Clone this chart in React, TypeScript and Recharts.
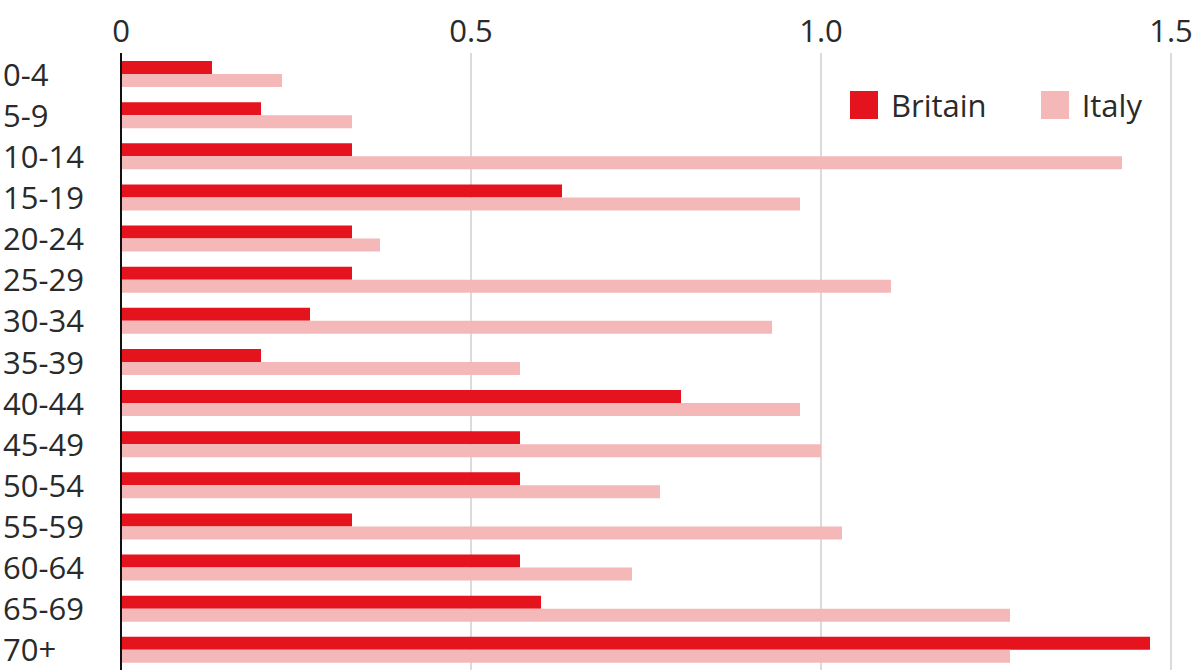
import React from "react";
import { BarChart, Bar, XAxis, YAxis, CartesianGrid } from "recharts";

const AGE_GROUPS = [
  "0-4", "5-9", "10-14", "15-19", "20-24", "25-29", "30-34", "35-39",
  "40-44", "45-49", "50-54", "55-59", "60-64", "65-69", "70+",
];
const BRITAIN = [0.13, 0.2, 0.33, 0.63, 0.33, 0.33, 0.27, 0.2, 0.8, 0.57, 0.57, 0.33, 0.57, 0.6, 1.47];
const ITALY = [0.23, 0.33, 1.43, 0.97, 0.37, 1.1, 0.93, 0.57, 0.97, 1.0, 0.77, 1.03, 0.73, 1.27, 1.27];
const X_TICKS = [0, 0.5, 1.0, 1.5];
const X_TICK_LABELS = ["0", "0.5", "1.0", "1.5"];
const SERIES = ["Britain", "Italy"];

const COLORS: Record<string, string> = { Britain: "#e5131d", Italy: "#f5b8b8" };
const FONT = "'Open Sans', sans-serif";
const TEXT = "#2a2a2a";

const data = AGE_GROUPS.map((g, i) => ({ group: g, Britain: BRITAIN[i], Italy: ITALY[i] }));

function YTick({ y, payload }: any) {
  return (
    <text x={3} y={y} textAnchor="start" dominantBaseline="central"
      fontFamily={FONT} fontSize={31} fill={TEXT}>
      {payload.value}
    </text>
  );
}

function XTick({ x, payload }: any) {
  const idx = X_TICKS.indexOf(payload.value);
  return (
    <text x={x} y={42} textAnchor="middle" fontFamily={FONT} fontSize={31} fill={TEXT}>
      {idx >= 0 ? X_TICK_LABELS[idx] : payload.value}
    </text>
  );
}

/* legend drawn as an overlay so it does not shrink the plot */
function LegendBox() {
  return (
    <div style={{ position: "absolute", top: 84, left: 850, display: "flex", alignItems: "center",
      fontFamily: FONT, fontSize: 31, color: TEXT }}>
      {SERIES.map((s) => (
        <div key={s} style={{ display: "flex", alignItems: "center", marginRight: 54 }}>
          <span style={{ width: 28, height: 28, background: COLORS[s], display: "inline-block", marginRight: 13 }} />
          <span>{s}</span>
        </div>
      ))}
    </div>
  );
}

export default function App() {
  return (
    <div style={{ position: "absolute", left: 0, top: 0, width: 1198, height: 671, overflow: "hidden", background: "#fff" }}>
      <BarChart width={1198} height={674} data={data} layout="vertical"
        margin={{ top: 0, right: 27, bottom: 4, left: 0 }}
        barSize={13} barGap={0}>
        <CartesianGrid horizontal={false} stroke="#cfcfcf" strokeWidth={1.5} />
        <XAxis type="number" orientation="top" domain={[0, 1.5]} ticks={X_TICKS}
          axisLine={false} tickLine={false} height={53} tick={<XTick />} />
        <YAxis type="category" dataKey="group" width={121}
          axisLine={{ stroke: "#111", strokeWidth: 2 }} tickLine={false} tick={<YTick />} />
        {SERIES.map((s) => (
          <Bar key={s} dataKey={s} fill={COLORS[s]} isAnimationActive={false} />
        ))}
      </BarChart>
      <LegendBox />
    </div>
  );
}
